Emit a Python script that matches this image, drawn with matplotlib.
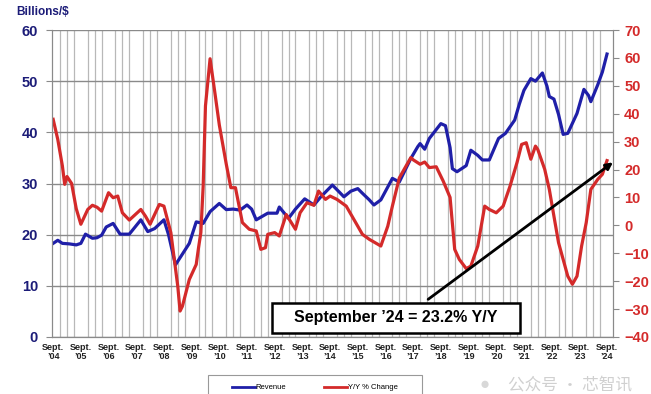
import numpy as np
import matplotlib.pyplot as plt
from matplotlib.patches import Rectangle

# months counted from Sept. 2004 (0) to Sept. 2024 (240)
rev_month = [0, 2, 4, 7, 10, 12, 14, 17, 19, 21, 23, 26, 29, 33, 38, 41, 44, 48, 50, 53,
             56, 59, 62, 65, 68, 72, 75, 78, 81, 84, 86, 88, 93, 97, 98, 102, 105, 109, 113, 116,
             121, 126, 129, 132, 134, 137, 139, 142, 147, 150, 155, 158, 159, 161, 163, 168, 170, 172, 173, 175,
             177, 179, 181, 184, 186, 189, 193, 196, 200, 202, 204, 207, 209, 212, 214, 215, 217, 219, 221, 223,
             227, 230, 232, 233, 236, 238, 240]
revenue = [18.3, 18.9, 18.3, 18.2, 18.0, 18.3, 20.1, 19.3, 19.4, 19.9, 21.5, 22.2, 20.1, 20.1, 22.9, 20.6, 21.2, 22.9, 20.0, 14.1,
           16.2, 18.3, 22.5, 22.2, 24.5, 26.1, 24.9, 25.0, 24.8, 25.8, 25.0, 22.9, 24.2, 24.2, 25.4, 23.2, 25.0, 27.0, 25.8, 27.4,
           29.7, 27.4, 28.5, 29.0, 28.1, 26.8, 25.8, 26.8, 31.0, 30.3, 34.9, 37.2, 37.8, 36.7, 38.8, 41.7, 41.3, 37.0, 32.9, 32.3,
           32.9, 33.5, 36.5, 35.5, 34.6, 34.6, 38.8, 39.8, 42.4, 45.5, 48.2, 50.5, 50.0, 51.6, 49.0, 47.0, 46.5, 43.5, 39.6, 39.8,
           43.7, 48.4, 47.2, 46.0, 49.3, 51.8, 55.3]

yoy_month = [0, 2, 4, 5, 6, 8, 10, 12, 15, 17, 19, 21, 24, 26, 28, 30, 33, 38, 40, 42,
             46, 48, 51, 54, 55, 56, 59, 62, 63, 64, 65, 66, 68, 70, 72, 75, 77, 79, 80, 82,
             85, 88, 90, 92, 93, 96, 98, 101, 105, 107, 110, 113, 115, 118, 120, 123, 127, 132, 134, 137,
             142, 145, 147, 150, 155, 156, 159, 161, 163, 166, 169, 172, 174, 176, 179, 181, 184, 187, 189, 192,
             195, 198, 201, 203, 205, 207, 209, 210, 213, 215, 217, 219, 223, 225, 227, 229, 231, 233, 236, 238,
             240]
yoy = [38.0, 30.8, 21.3, 14.7, 17.5, 15.0, 6.0, 0.4, 5.7, 7.2, 6.5, 5.1, 11.7, 9.9, 10.5, 4.5, 1.9, 5.7, 3.3, 0.4,
       7.5, 6.9, -2.6, -21.8, -30.7, -29.0, -19.4, -14.0, -8.0, -2.6, 14.0, 42.8, 59.7, 48.0, 36.0, 22.0, 13.5, 13.5, 9.3, 1.0,
       -1.4, -2.0, -8.6, -8.0, -3.2, -2.6, -3.8, 3.9, -1.4, 4.5, 8.1, 7.2, 12.3, 9.3, 10.5, 9.3, 6.9, -0.3, -3.2, -5.0,
       -7.4, -0.3, 6.9, 17.0, 24.3, 23.5, 21.9, 22.7, 20.7, 21.0, 15.9, 10.0, -8.6, -12.2, -15.5, -14.6, -7.4, 6.9, 5.7, 4.5,
       6.9, 14.1, 22.5, 29.0, 29.6, 23.7, 28.4, 27.2, 20.1, 12.9, 3.3, -6.2, -18.2, -21.1, -18.2, -7.4, 1.0, 12.9, 16.5, 18.3,
       23.2]

years = ['04', '05', '06', '07', '08', '09', '10', '11', '12', '13', '14',
         '15', '16', '17', '18', '19', '20', '21', '22', '23', '24']
tick_labels = ['Sept.\n\u2019' + y for y in years]

navy = '#1c1c78'
blue = '#1f1fa8'
red = '#d42a2a'
plt.rcParams['font.family'] = ['Liberation Sans', 'DejaVu Sans']

fig = plt.figure(figsize=(6.51, 3.94), dpi=100)
ax = fig.add_axes([52/651, 1-337/394, 561/651, 307/394])
ax2 = ax.twinx()

ax.plot(rev_month, revenue, color=blue, lw=2.3, zorder=3)
ax2.plot(yoy_month, yoy, color=red, lw=2.3, zorder=2)

ax.set_xlim(-0.5, 242.6)
ax.set_ylim(0, 60)
ax2.set_ylim(-40, 70)

ax.set_xticks(range(0, 241, 12))
ax.set_xticklabels(tick_labels, fontsize=6.5, fontweight='bold', color='#222222', linespacing=1.0)
ax.set_xticks(range(0, 243, 3), minor=True)
ax.tick_params(axis='x', which='both', length=0, pad=4)
ax.grid(axis='x', which='minor', color='#b8b8b8', lw=0.9)
ax.set_yticks(range(0, 61, 10))
ax.grid(axis='y', color='#8a8a8a', lw=1.0)
ax.set_axisbelow(True)
ax.tick_params(axis='y', length=4, color='#8a8a8a', labelsize=10.5, labelcolor=navy, pad=6)
for t in ax.get_yticklabels():
    t.set_fontweight('bold')

ax2.set_yticks(range(-40, 71, 10))
ax2.tick_params(axis='y', length=4, color='#8a8a8a', labelsize=10.5, labelcolor=red, pad=4)
for t in ax2.get_yticklabels():
    t.set_fontweight('bold')

for a in (ax, ax2):
    a.spines['top'].set_visible(False)
    for s in ('left', 'right', 'bottom'):
        a.spines[s].set_color('#8a8a8a')

fig.text(16/651, 1-12/394, 'Billions/$', fontsize=8.5, fontweight='bold', color=navy, va='center')

# callout box and arrow
ax2.add_patch(Rectangle((94.8, -38.5), 107.5, 10.8, facecolor='white', edgecolor='black', lw=1.8, zorder=5))
ax2.text(148.6, -33.1, 'September \u201924 = 23.2% Y/Y', ha='center', va='center',
         fontsize=11.5, fontweight='bold', zorder=6)
ax2.annotate('', xy=(242.6, 22.6), xytext=(162.5, -26.5), zorder=6, annotation_clip=False,
             arrowprops=dict(arrowstyle='-|>', color='black', lw=2, mutation_scale=10,
                             shrinkA=0, shrinkB=0))

# legend (bottom, partly cut off)
fig.patches.append(Rectangle((208/651, -0.05), 214/651, 0.05 + 19/394, transform=fig.transFigure,
                             facecolor='white', edgecolor='#999999', lw=0.8))
h1, = ax.plot([], [], color=blue, lw=2, label='Revenue')
h2, = ax.plot([], [], color=red, lw=2, label='Y/Y % Change')
fig.legend(handles=[h1, h2], loc='upper center', bbox_to_anchor=(315/651, 1-377/394), ncol=2,
           frameon=False, fontsize=5.5, handlelength=3, handletextpad=0.1, columnspacing=5)

# watermark
fig.text(480/651, 1-377/394, '\u25cf', fontsize=12, color='#d8d8d8', va='top')
fig.text(508/651, 1-376/394, '公众号 · 芯智讯', fontsize=12, color='#d0d0d0', va='top',
         family=['Noto Sans CJK SC', 'DejaVu Sans'])

fig.savefig('out.png', dpi=100)
